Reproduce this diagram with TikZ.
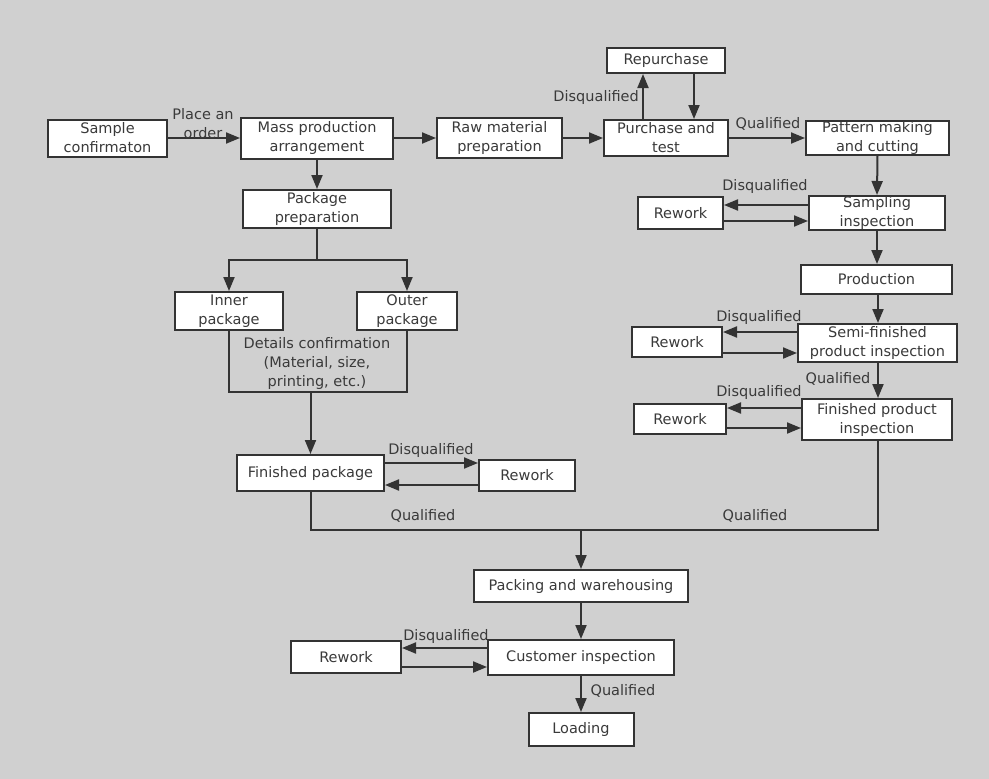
\documentclass[tikz,border=0pt]{standalone}
\usepackage{fontspec}
\setmainfont{DejaVu Sans}
\usetikzlibrary{arrows.meta}
\definecolor{bgc}{HTML}{D0D0D0}
\definecolor{linec}{HTML}{333333}
\definecolor{txtc}{HTML}{3A3A3A}
\begin{document}
\begin{tikzpicture}[x=1pt,y=-1pt,
  every node/.style={font=\fontsize{14.5}{19}\selectfont, text=txtc},
  box/.style={draw=linec, line width=2pt, fill=white, inner sep=0pt, align=center},
  lbl/.style={inner sep=0pt, align=center},
  conn/.style={draw=linec, line width=2pt},
  arr/.style={conn, -{Triangle[length=14pt,width=11pt]}}]
\fill[bgc] (0,0) rectangle (989,779);
\useasboundingbox (0,0) rectangle (989,779);
% nodes
\node[box, minimum width=119, minimum height=37] (sample) at (107.5,138) {Sample\\confirmaton};
\node[box, minimum width=152, minimum height=41] (mass) at (317,138) {Mass production\\arrangement};
\node[box, minimum width=148, minimum height=38] (pkg) at (317,209) {Package\\preparation};
\node[box, minimum width=125, minimum height=40] (raw) at (499.5,138) {Raw material\\preparation};
\node[box, minimum width=124, minimum height=36] (purch) at (666,138) {Purchase and\\test};
\node[box, minimum width=118, minimum height=25] (rep) at (666,60.5) {Repurchase};
\node[box, minimum width=143, minimum height=32] (pat) at (877.5,138) {Pattern making\\and cutting};
\node[box, minimum width=85, minimum height=32] (rw1) at (680.5,213) {Rework};
\node[box, minimum width=136, minimum height=34] (samp) at (877,213) {Sampling\\inspection};
\node[box, minimum width=151, minimum height=29] (prod) at (876.5,279.5) {Production};
\node[box, minimum width=90, minimum height=30] (rw2) at (677,342) {Rework};
\node[box, minimum width=159, minimum height=38] (semi) at (877.5,343) {Semi-finished\\product inspection};
\node[box, minimum width=92, minimum height=30] (rw3) at (680,419) {Rework};
\node[box, minimum width=150, minimum height=41] (fpi) at (877,419.5) {Finished product\\inspection};
\node[box, minimum width=108, minimum height=38] (inner) at (229,311) {Inner\\package};
\node[box, minimum width=100, minimum height=38] (outer) at (407,311) {Outer\\package};
\node[lbl] (det) at (317,363) {Details confirmation\\(Material, size,\\printing, etc.)};
\node[box, minimum width=147, minimum height=36] (finpkg) at (310.5,473) {Finished package};
\node[box, minimum width=96, minimum height=31] (rw4) at (527,475.5) {Rework};
\node[box, minimum width=214, minimum height=32] (pack) at (581,586) {Packing and warehousing};
\node[box, minimum width=186, minimum height=35] (cust) at (581,657.5) {Customer inspection};
\node[box, minimum width=110, minimum height=32] (rw5) at (346,657) {Rework};
\node[box, minimum width=105, minimum height=33] (load) at (581,729.5) {Loading};
% coordinates
\coordinate (pk) at (317,260);
\coordinate (dc) at (310.5,392);
\coordinate (mg) at (581,530);
% connectors
\draw[arr] (sample.east) -- (mass.west |- sample.east);
\node[lbl] (lplace) at (203,124) {Place an\\order};
\draw[arr] (mass.east) -- (raw.west |- mass.east);
\draw[arr] (raw.east) -- (purch.west |- raw.east);
\draw[arr] (purch.north -| 643,0) -- (rep.south -| 643,0);
\node[lbl, anchor=east] (ldq0) at (639,97) {Disqualified};
\draw[arr] (rep.south -| 694,0) -- (purch.north -| 694,0);
\draw[arr] (purch.east) -- (pat.west |- purch.east);
\node[lbl] (lq0) at (768,124) {Qualified};
\draw[arr] (pat.south) -- (samp.north);
\draw[arr] (samp.west |- 0,205) -- (rw1.east |- 0,205);
\draw[arr] (rw1.east |- 0,221) -- (samp.west |- 0,221);
\node[lbl] (ldq1) at (765,186) {Disqualified};
\draw[arr] (samp.south) -- (prod.north -| samp.south);
\draw[arr] (prod.south -| 878,0) -- (semi.north -| 878,0);
\draw[arr] (semi.west |- 0,332) -- (rw2.east |- 0,332);
\draw[arr] (rw2.east |- 0,353) -- (semi.west |- 0,353);
\node[lbl] (ldq2) at (759,317) {Disqualified};
\draw[arr] (semi.south -| 878,0) -- (fpi.north -| 878,0);
\node[lbl] (lq1) at (838,379) {Qualified};
\draw[arr] (fpi.west |- 0,408) -- (rw3.east |- 0,408);
\draw[arr] (rw3.east |- 0,428) -- (fpi.west |- 0,428);
\node[lbl] (ldq3) at (759,392) {Disqualified};
\draw[arr] (mass.south) -- (pkg.north);
\draw[conn] (pkg.south) -- (pk);
\draw[arr] (pk) -| (inner.north);
\draw[arr] (pk) -| (outer.north);
\draw[conn] (inner.south) -- (inner.south |- dc) -- (outer.south |- dc) -- (outer.south);
\draw[arr] (dc) -- (finpkg.north);
\draw[arr] (finpkg.east |- 0,463) -- (rw4.west |- 0,463);
\draw[arr] (rw4.west |- 0,485) -- (finpkg.east |- 0,485);
\node[lbl] (ldq4) at (431,450) {Disqualified};
\draw[conn] (finpkg.south) |- (mg);
\draw[conn] (fpi.south -| 878,0) |- (mg);
\draw[arr] (mg) -- (pack.north);
\node[lbl] (lq2) at (423,516) {Qualified};
\node[lbl] (lq3) at (755,516) {Qualified};
\draw[arr] (pack.south) -- (cust.north);
\draw[arr] (cust.west |- 0,648) -- (rw5.east |- 0,648);
\draw[arr] (rw5.east |- 0,667) -- (cust.west |- 0,667);
\node[lbl] (ldq5) at (446,636) {Disqualified};
\draw[arr] (cust.south) -- (load.north);
\node[lbl] (lq4) at (623,691) {Qualified};
\end{tikzpicture}
\end{document}
